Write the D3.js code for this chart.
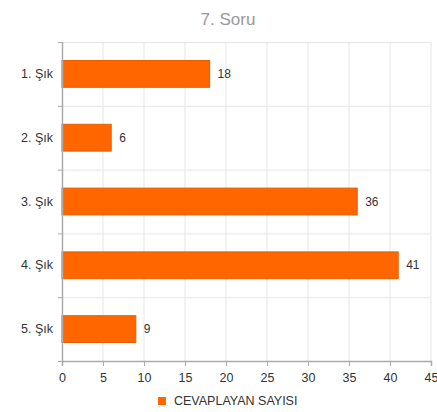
<!DOCTYPE html>
<html>
<head>
<meta charset="utf-8">
<script src="https://cdn.jsdelivr.net/npm/d3@7"></script>
<style>
  body { margin: 0; background: #fff; font-family: "Liberation Sans", Arial, sans-serif; }
</style>
</head>
<body>
<div id="chart"></div>
<script>
var categories = ["1. Şık", "2. Şık", "3. Şık", "4. Şık", "5. Şık"];
var values = [18, 6, 36, 41, 9];
var xTicks = [0, 5, 10, 15, 20, 25, 30, 35, 40, 45];
var seriesName = "CEVAPLAYAN SAYISI";
var title = "7. Soru";

var w = 437, h = 412;
var plotLeft = 62, plotRight = 431, plotTop = 42, plotBottom = 361;

var svg = d3.select("#chart").append("svg")
  .attr("width", w).attr("height", h);

var x = d3.scaleLinear().domain([0, 45]).range([plotLeft, plotRight]);
var y = d3.scaleBand().domain(categories).range([plotTop, plotBottom]).padding(0);

// title
svg.append("text")
  .attr("x", 228).attr("y", 25)
  .attr("text-anchor", "middle")
  .attr("font-size", 17)
  .attr("fill", "#999")
  .text(title);

// vertical grid lines
svg.append("g").selectAll("line")
  .data(xTicks.slice(1))
  .enter().append("line")
  .attr("x1", d => x(d)).attr("x2", d => x(d))
  .attr("y1", plotTop).attr("y2", plotBottom)
  .attr("stroke", "#e5e5e5");

// horizontal grid lines at band edges
var edges = categories.map(c => y(c)).concat([plotBottom]);
svg.append("g").selectAll("line")
  .data(edges.slice(0, -1))
  .enter().append("line")
  .attr("x1", plotLeft).attr("x2", plotRight)
  .attr("y1", d => d + 0.5).attr("y2", d => d + 0.5)
  .attr("stroke", "#e5e5e5");

// bars
var barH = y.bandwidth() * 0.42;
svg.append("g").selectAll("rect")
  .data(values)
  .enter().append("rect")
  .attr("x", x(0))
  .attr("y", (d, i) => y(categories[i]) + (y.bandwidth() - barH) / 2)
  .attr("width", d => x(d) - x(0))
  .attr("height", barH)
  .attr("fill", "#ff6600")
  .attr("stroke", "#e85c00")
  .attr("stroke-width", 1);

// value labels
svg.append("g").selectAll("text")
  .data(values)
  .enter().append("text")
  .attr("x", d => x(d) + 8)
  .attr("y", (d, i) => y(categories[i]) + y.bandwidth() / 2 + 4)
  .attr("font-size", 12)
  .attr("fill", "#333")
  .text(d => d);

// left axis
svg.append("line")
  .attr("x1", plotLeft + 0.5).attr("x2", plotLeft + 0.5)
  .attr("y1", plotTop).attr("y2", plotBottom)
  .attr("stroke", "#aaa").attr("stroke-width", 1.5);
svg.append("g").selectAll("line")
  .data(edges)
  .enter().append("line")
  .attr("x1", plotLeft - 4).attr("x2", plotLeft)
  .attr("y1", d => d + 0.5).attr("y2", d => d + 0.5)
  .attr("stroke", "#aaa");
svg.append("g").selectAll("text")
  .data(categories)
  .enter().append("text")
  .attr("x", plotLeft - 9)
  .attr("y", d => y(d) + y.bandwidth() / 2 + 4)
  .attr("text-anchor", "end")
  .attr("font-size", 12.5)
  .attr("fill", "#333")
  .text(d => d);

// bottom axis
var xAxis = d3.axisBottom(x).tickValues(xTicks).tickSize(5).tickPadding(7);
var gx = svg.append("g")
  .attr("transform", "translate(0," + plotBottom + ")")
  .call(xAxis);
gx.select(".domain").attr("stroke", "#aaa").attr("stroke-width", 1.5);
gx.selectAll(".tick line").attr("stroke", "#aaa");
gx.selectAll(".tick text")
  .attr("font-family", "Liberation Sans, Arial, sans-serif")
  .attr("font-size", 12.5).attr("fill", "#333");

// legend
svg.append("rect")
  .attr("x", 158).attr("y", 397).attr("width", 8).attr("height", 8)
  .attr("fill", "#ff6600");
svg.append("text")
  .attr("x", 174).attr("y", 405)
  .attr("font-size", 12.5)
  .attr("fill", "#333")
  .text(seriesName);
</script>
</body>
</html>
